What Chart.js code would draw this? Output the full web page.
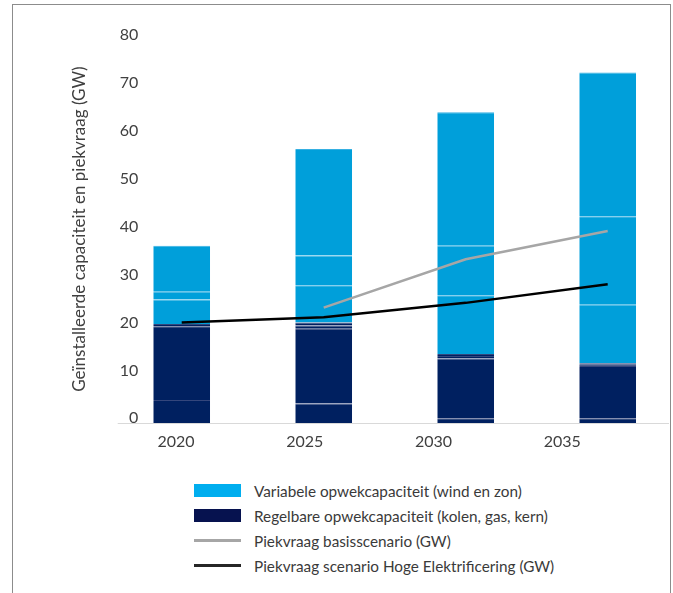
<!DOCTYPE html>
<html lang="nl">
<head>
<meta charset="utf-8">
<title>Geïnstalleerde capaciteit en piekvraag</title>
<script src="https://cdn.jsdelivr.net/npm/chart.js@4"></script>
<style>
  html, body { margin: 0; padding: 0; background: #fff; overflow: hidden; }
  body { width: 673px; height: 593px; position: relative; font-family: Lato, "Noto Sans", sans-serif; }
  .frame { position: absolute; left: 12px; top: 4px; width: 657px; height: 640px; border: 1px solid #8c8c8c; }
  .plot { position: absolute; left: 0; top: 0; width: 669px; height: 470px; overflow: hidden; }
  .plot canvas { display: block; }
  .legend { position: absolute; left: 194px; top: 478px; }
  .legend .row { display: flex; align-items: center; height: 25px; }
  .legend .swatch { width: 47px; margin-right: 13px; }
  .legend .label { font-size: 15.3px; color: #3a3a3a; white-space: nowrap; }
</style>
</head>
<body>
<div class="frame"></div>
<div class="plot"><canvas id="capChart" width="690" height="470"></canvas></div>
<div class="legend" id="legend"></div>

<script>
// --- data ---
const years = ['2020', '2025', '2030', '2035'];

// regelbare capaciteit, segmenten van onder naar boven (GW)
const regelbaarA = [3.8, 3.1, 0, 0];
const regelbaarB = [15.4, 15.6, 12.5, 10.9];
const regelbaarC = [0.5, 0.7, 0.5, 0.3];
const regelbaarD = [0, 0.6, 0.4, 0.3];

// variabele capaciteit (wind en zon), segmenten van onder naar boven (GW)
const variabelA = [5.1, 7.8, 12.3, 12.2];
const variabelB = [1.6, 6.2, 10.3, 18.5];
const variabelC = [9.6, 22.2, 27.9, 30.0];

// piekvraag (GW)
const piekBasis = [null, 23.1, 33.2, 39.1];
const piekHoog = [20.0, 21.1, 24.1, 28.0];

const yTicks = [0, 10, 20, 30, 40, 50, 60, 70, 80];

const seriesNames = [
  'Variabele opwekcapaciteit (wind en zon)',
  'Regelbare opwekcapaciteit (kolen, gas, kern)',
  'Piekvraag basisscenario (GW)',
  'Piekvraag scenario Hoge Elektrificering (GW)'
];
const yTitle = 'Geïnstalleerde capaciteit en piekvraag (GW)';

// --- styles ---
const LIGHT = '#009fda', LIGHT_EDGE = '#36b0e2';
const DARK = '#002060', DARK_EDGE = '#34467c';
const GREY = '#a6a6a6', BLACK = '#000000';
const TEXT = '#404040';
const FONT = 'Lato, "Noto Sans", sans-serif';

function barSet(data, fill, edge, extra) {
  return Object.assign({
    type: 'bar',
    data: data,
    backgroundColor: fill,
    borderColor: edge,
    borderWidth: { top: 1, left: 0, right: 0, bottom: 0 },
    borderSkipped: false,
    stack: 'cap',
    order: 1,
    barPercentage: 0.4,
    categoryPercentage: 1.0
  }, extra || {});
}

function lineSet(data, color, stack) {
  return {
    type: 'line',
    data: data,
    borderColor: color,
    borderWidth: 2.5,
    pointRadius: 0,
    tension: 0,
    fill: false,
    stack: stack,
    order: 0
  };
}

// light grey base line under the bars
const baseLine = {
  id: 'baseLine',
  beforeDatasetsDraw(chart) {
    const { ctx, chartArea, scales } = chart;
    const y = Math.round(scales.y.getPixelForValue(scales.y.min)) + 0.5;
    ctx.save();
    ctx.strokeStyle = '#d9d9d9';
    ctx.lineWidth = 1.2;
    ctx.beginPath();
    ctx.moveTo(chartArea.left + 7, y);
    ctx.lineTo(chart.width, y);
    ctx.stroke();
    ctx.restore();
  }
};

new Chart(document.getElementById('capChart'), {
  data: {
    labels: years,
    datasets: [
      lineSet(piekHoog, BLACK, 'hoog'),
      lineSet(piekBasis, GREY, 'basis'),
      barSet(regelbaarA, DARK, DARK_EDGE, { base: -1 }),
      barSet(regelbaarB, DARK, DARK_EDGE),
      barSet(regelbaarC, DARK, DARK_EDGE),
      barSet(regelbaarD, DARK, DARK_EDGE),
      barSet(variabelA, LIGHT, LIGHT_EDGE),
      barSet(variabelB, LIGHT, LIGHT_EDGE),
      barSet(variabelC, LIGHT, LIGHT_EDGE)
    ]
  },
  options: {
    responsive: false,
    animation: false,
    events: [],
    layout: { padding: { top: 35.1, right: 11.3, bottom: 6.9, left: 0 } },
    plugins: { legend: { display: false }, tooltip: { enabled: false } },
    scales: {
      x: {
        type: 'category',
        stacked: true,
        offset: true,
        display: false
      },
      xl: {
        type: 'linear',
        position: 'bottom',
        min: -0.507,
        max: 3.904,
        afterBuildTicks: s => { s.ticks = years.map((_, i) => ({ value: i })); },
        afterFit: s => { s.height = 40; },
        grid: { display: false, drawTicks: false },
        border: { display: false },
        ticks: {
          padding: 9,
          autoSkip: false,
          maxRotation: 0,
          color: TEXT,
          font: { family: FONT, size: 16 },
          callback: v => years[v]
        }
      },
      y: {
        stacked: true,
        min: -1,
        max: 80,
        afterBuildTicks: s => { s.ticks = yTicks.map(v => ({ value: v })); },
        afterFit: s => { s.width = 110.7; },
        grid: { display: false },
        border: { display: false },
        ticks: {
          mirror: true,
          crossAlign: 'far',
          padding: 9,
          color: TEXT,
          font: { family: FONT, size: 16 }
        },
        title: {
          display: true,
          text: yTitle,
          color: TEXT,
          font: { family: FONT, size: 17 },
          padding: { top: 69.8, bottom: 0 }
        }
      }
    }
  },
  plugins: [baseLine]
});

// legend
const legendItems = [
  { name: seriesNames[0], color: '#00aeef', kind: 'box' },
  { name: seriesNames[1], color: '#06124f', kind: 'box' },
  { name: seriesNames[2], color: GREY, kind: 'line' },
  { name: seriesNames[3], color: '#262626', kind: 'line' }
];
const legendEl = document.getElementById('legend');
legendItems.forEach(item => {
  const row = document.createElement('div');
  row.className = 'row';
  const sw = document.createElement('div');
  sw.className = 'swatch';
  sw.style.height = item.kind === 'box' ? '13px' : '3px';
  sw.style.background = item.color;
  const lb = document.createElement('span');
  lb.className = 'label';
  lb.textContent = item.name;
  row.appendChild(sw);
  row.appendChild(lb);
  legendEl.appendChild(row);
});
</script>
</body>
</html>
